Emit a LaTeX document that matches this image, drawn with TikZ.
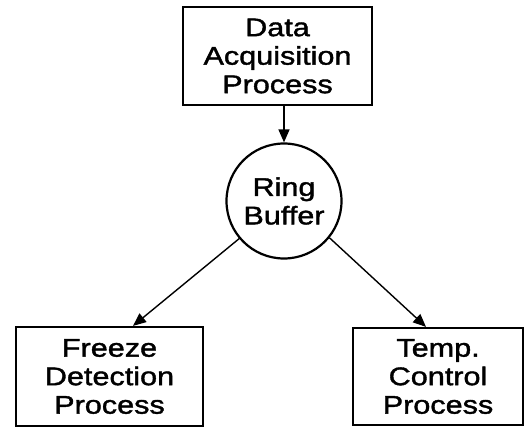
\documentclass[tikz,border=0pt]{standalone}
\usepackage{fontspec}
\setmainfont{Liberation Sans}[FakeStretch=1.2,FakeBold=1.5]
\usetikzlibrary{arrows.meta,calc}
\begin{document}
\begin{tikzpicture}[x=1pt,y=1pt,
  procbox/.style={draw,line width=2.2pt,rectangle,inner sep=0pt,align=center,
    font=\fontsize{25.5}{28.5}\selectfont},
  ringnode/.style={draw,line width=2.2pt,circle,inner sep=0pt,minimum size=115pt,align=center,
    font=\fontsize{25.5}{28.5}\selectfont},
  flow/.style={line width=1.4pt,-{Triangle[length=13pt,width=11pt]}}]
\useasboundingbox (0,0) rectangle (526,-427);
\node[procbox,minimum width=189pt,minimum height=98pt] (acq) at (277.5,-56) {Data\\Acquisition\\Process};
\node[ringnode] (ring) at (284,-201) {Ring\\Buffer};
\node[procbox,minimum width=187pt,minimum height=99pt] (freeze) at (109.5,-376.5) {Freeze\\Detection\\Process};
\node[procbox,minimum width=170pt,minimum height=97pt] (temp) at (438,-376.5) {Temp.\\Control\\Process};
\draw[flow] (ring.north |- acq.south) -- (ring.north);
\draw[flow] (ring.220) -- ([xshift=23.5pt]freeze.north);
\draw[flow] (ring.-39) -- ([xshift=-12pt]temp.north);
\end{tikzpicture}
\end{document}
